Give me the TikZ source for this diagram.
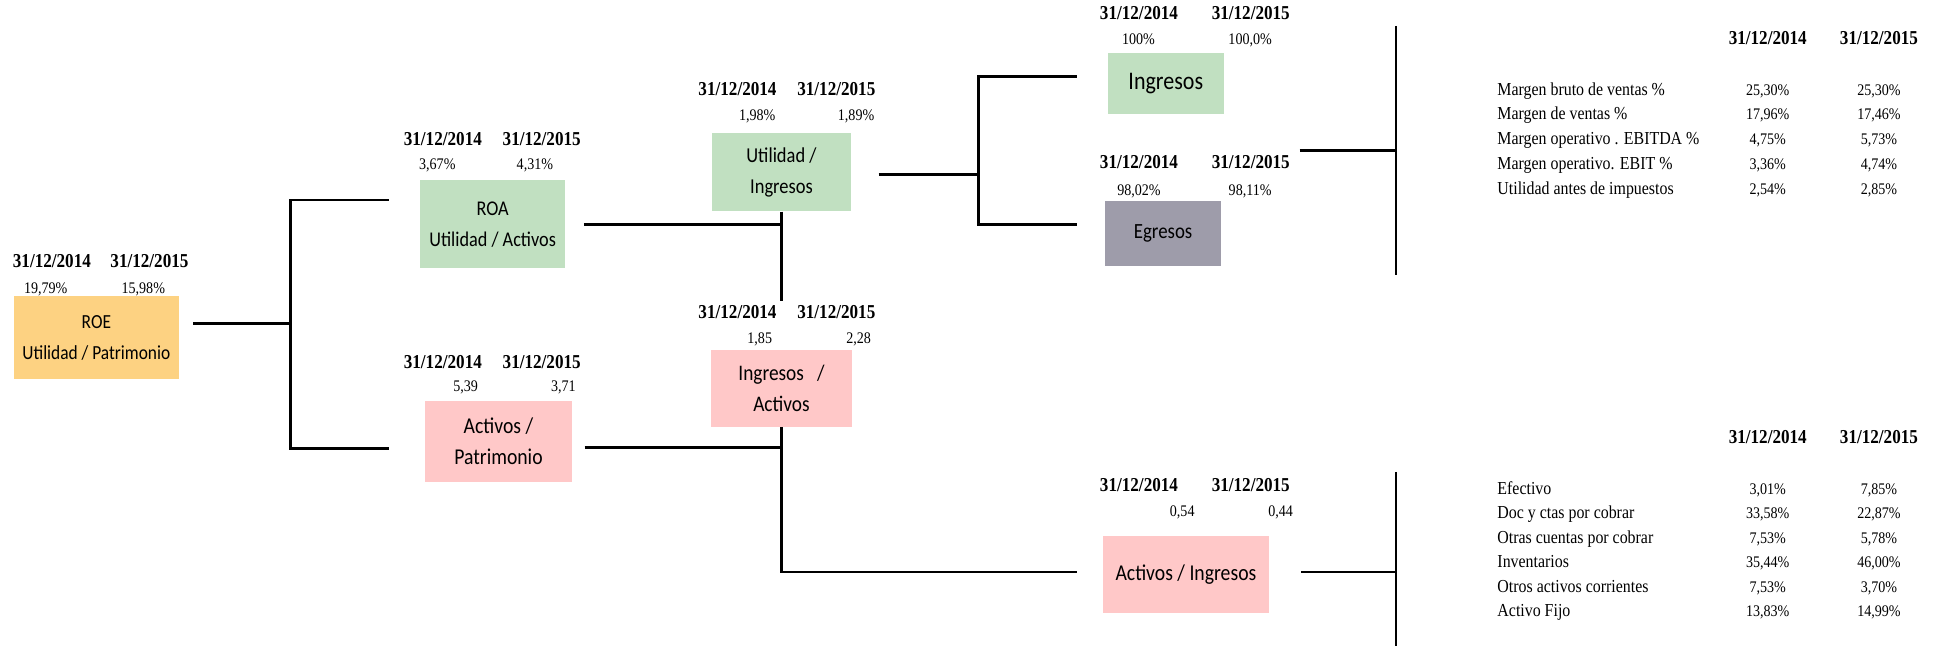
\documentclass[tikz,border=0pt]{standalone}
\usepackage{fontspec}
\setmainfont{Liberation Serif}
\newfontfamily\boxfamily{Carlito}
\usepackage{xcolor}
\definecolor{roefill}{HTML}{FDD282}
\definecolor{greenfill}{HTML}{C1E0C1}
\definecolor{pinkfill}{HTML}{FFC8C8}
\definecolor{grayfill}{HTML}{9E9CAA}
\usepackage{tikz}

\begin{document}
\begin{tikzpicture}[
    x=0.3088mm, y=-0.3088mm,
    box/.style={inner sep=0pt, xscale=0.87, align=center, font=\boxfamily\fontsize{#1}{22}\selectfont},
    box/.default=14.6,
    hdr/.style={inner sep=0pt, xscale=0.87, text height=1.5ex, text depth=0pt, font=\bfseries\fontsize{14}{16}\selectfont},
    num/.style={inner sep=0pt, xscale=0.87, text height=1.5ex, text depth=0pt, font=\fontsize{11.5}{13}\selectfont},
    lbl/.style={inner sep=0pt, xscale=0.87, anchor=west, text height=1.5ex, text depth=0pt, font=\fontsize{13}{15}\selectfont},
    lnk/.style={line width=1.9pt}
]
\useasboundingbox (0,0) rectangle (1568,523);

\node[box=14.2, fill=roefill, minimum width=47.6mm, minimum height=20.7mm] (roe) at (78,273.5) {ROE\\Utilidad / Patrimonio};
\node[box=14.9, fill=greenfill, minimum width=41.7mm, minimum height=21.9mm] (roa) at (398.8,181.5) {ROA\\Utilidad / Activos};
\node[box=16.1, fill=pinkfill, minimum width=42.3mm, minimum height=20.1mm] (ap) at (403.5,357.5) {Activos /\\Patrimonio};
\node[box=15.1, fill=greenfill, minimum width=40.1mm, minimum height=19.5mm] (ui) at (632.6,139.5) {Utilidad /\\Ingresos};
\node[box=15.8, fill=pinkfill, minimum width=40.3mm, minimum height=19.2mm] (ia) at (632.6,314.3) {Ingresos~~~/\\Activos};
\node[box=18, fill=greenfill, minimum width=33.2mm, minimum height=15.2mm] (ing) at (943.7,67.7) {Ingresos};
\node[box=15.4, fill=grayfill, minimum width=33.3mm, minimum height=16.2mm] (egr) at (941.5,188.8) {Egresos};
\node[box=16.1, fill=pinkfill, minimum width=47.6mm, minimum height=19.2mm] (ai) at (960,465) {Activos / Ingresos};

\node[hdr] (roeh1) at (42,212.5) {31/12/2014};
\node[hdr] (roeh2) at (121,212.5) {31/12/2015};
\node[num] (roev1) at (37,233.5) {19,79\%};
\node[num] (roev2) at (116,233.5) {15,98\%};
\node[hdr] (roah1) at (358.5,113.5) {31/12/2014};
\node[hdr] (roah2) at (438.5,113.5) {31/12/2015};
\node[num] (roav1) at (354,133) {3,67\%};
\node[num] (roav2) at (433,133) {4,31\%};
\node[hdr] (aph1) at (358.5,294) {31/12/2014};
\node[hdr] (aph2) at (438.5,294) {31/12/2015};
\node[num] (apv1) at (377,313) {5,39};
\node[num] (apv2) at (456,313) {3,71};
\node[hdr] (uih1) at (597,73) {31/12/2014};
\node[hdr] (uih2) at (677,73) {31/12/2015};
\node[num] (uiv1) at (613,94) {1,98\%};
\node[num] (uiv2) at (693,94) {1,89\%};
\node[hdr] (iah1) at (597,253.7) {31/12/2014};
\node[hdr] (iah2) at (677,253.7) {31/12/2015};
\node[num] (iav1) at (615,274) {1,85};
\node[num] (iav2) at (695,274) {2,28};
\node[hdr] (ingh1) at (922,12) {31/12/2014};
\node[hdr] (ingh2) at (1012.5,12) {31/12/2015};
\node[num] (ingv1) at (921.6,32.4) {100\%};
\node[num] (ingv2) at (1012,32.4) {100,0\%};
\node[hdr] (egrh1) at (922,132.6) {31/12/2014};
\node[hdr] (egrh2) at (1012.5,132.6) {31/12/2015};
\node[num] (egrv1) at (922,154) {98,02\%};
\node[num] (egrv2) at (1012,154) {98,11\%};
\node[hdr] (aih1) at (922,394.3) {31/12/2014};
\node[hdr] (aih2) at (1012.5,394.3) {31/12/2015};
\node[num] (aiv1) at (957,414) {0,54};
\node[num] (aiv2) at (1036.6,414) {0,44};

\node[hdr] (mh1) at (1431,32.4) {31/12/2014};
\node[hdr] (mh2) at (1521,32.4) {31/12/2015};
\foreach \lab/\va/\vb [count=\i] in {Margen bruto de ventas \%/{25,30\%}/{25,30\%}, Margen de ventas \%/{17,96\%}/{17,46\%}, Margen operativo . EBITDA \%/{4,75\%}/{5,73\%}, Margen operativo. EBIT \%/{3,36\%}/{4,74\%}, Utilidad antes de impuestos/{2,54\%}/{2,85\%}} {
    \node[lbl] (ml\i) at (1212,52.9+20.1*\i) {\lab};
    \node[num] (ma\i) at (1431,52.9+20.1*\i) {\va};
    \node[num] (mb\i) at (1521,52.9+20.1*\i) {\vb};
}
\node[hdr] (ah1) at (1431,355) {31/12/2014};
\node[hdr] (ah2) at (1521,355) {31/12/2015};
\foreach \lab/\va/\vb [count=\i] in {Efectivo/{3,01\%}/{7,85\%}, Doc y ctas por cobrar/{33,58\%}/{22,87\%}, Otras cuentas por cobrar/{7,53\%}/{5,78\%}, Inventarios/{35,44\%}/{46,00\%}, Otros activos corrientes/{7,53\%}/{3,70\%}, Activo Fijo/{13,83\%}/{14,99\%}} {
    \node[lbl] (al\i) at (1212,376.15+19.85*\i) {\lab};
    \node[num] (aa\i) at (1431,376.15+19.85*\i) {\va};
    \node[num] (ab\i) at (1521,376.15+19.85*\i) {\vb};
}

\coordinate (k1) at (235,262);
\coordinate (k4) at (792,141.5);
\coordinate (t1a) at (1052,122);
\coordinate (t1b) at (1130,21);
\coordinate (t1c) at (1130,223);
\coordinate (t2b) at (1130,382);
\coordinate (t2c) at (1130,523);

\draw[lnk] ([shift={(11,-11.5)}]roe.east) -- (k1);
\draw[lnk] ([shift={(-25,-19.5)}]roa.west) -| (k1) |- ([shift={(-29,5.5)}]ap.west);
\draw[lnk] ([shift={(15,0)}]roa.east) -- (roa.east -| ui.south);
\draw[lnk] (ui.south) -- ++(0,72);
\draw[lnk] ([shift={(10,5)}]ap.east) -| (ia.south);
\draw[lnk] (ia.south) |- ([shift={(-21,-2)}]ai.west);
\draw[lnk] ([shift={(22,2)}]ui.east) -- (k4);
\draw[lnk] ([shift={(-25,-6)}]ing.west) -| (k4) |- ([shift={(-22.5,-7)}]egr.west);
\draw[lnk] (t1a) -- (t1a -| t1b);
\draw[lnk] (t1b) -- (t1c);
\draw[lnk] ([shift={(26,-2)}]ai.east) -- ++(77,0);
\draw[lnk] (t2b) -- (t2c);
\end{tikzpicture}
\end{document}
